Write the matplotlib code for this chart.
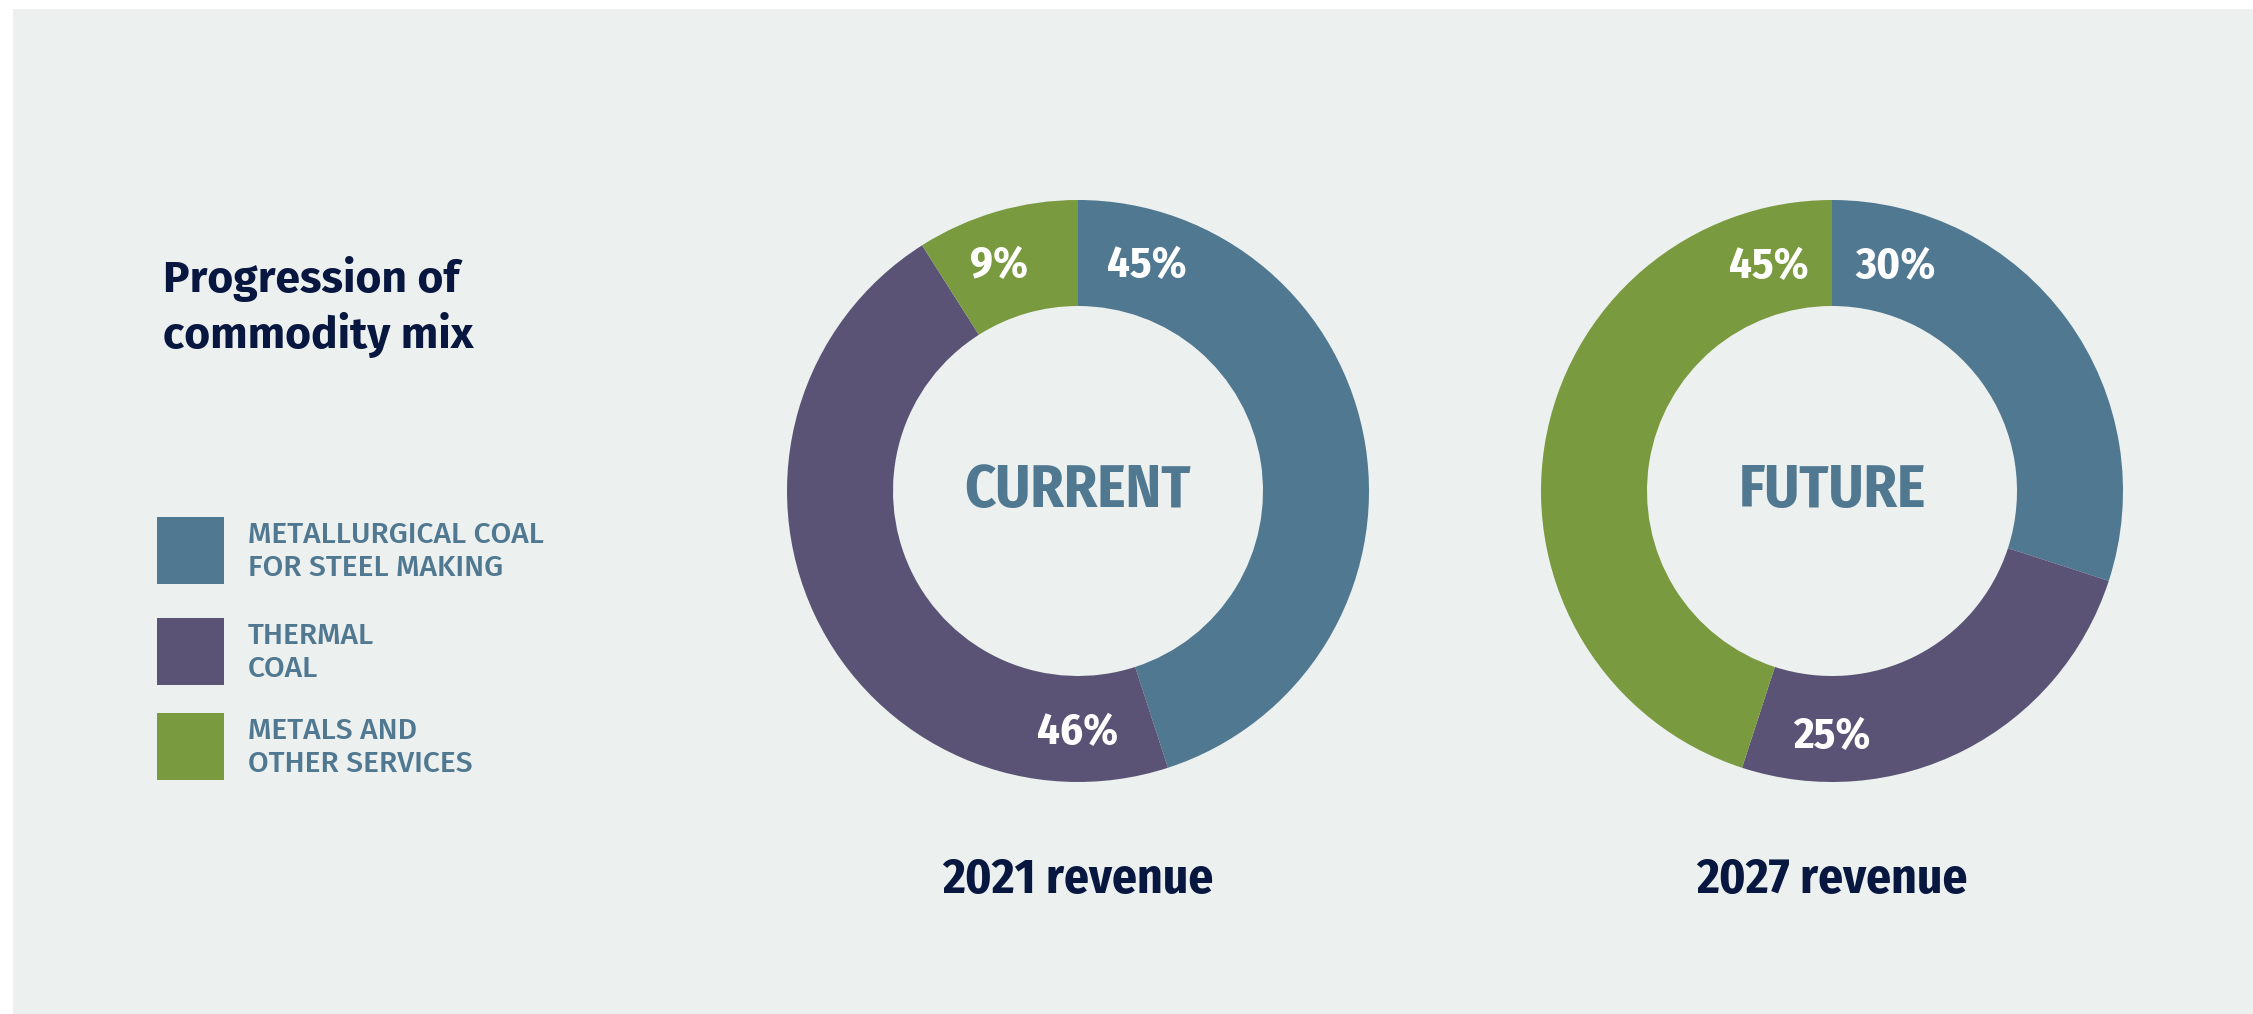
import matplotlib
matplotlib.use('Agg')
import matplotlib.pyplot as plt
import matplotlib.patches as mpatches
from matplotlib import font_manager
import numpy as np

W, H = 2253, 1014

BG     = '#ecf0ef'
BLUE   = '#507891'
PURPLE = '#5a5375'
GREEN  = '#7a9a3f'
NAVY   = '#08173f'
WHITE  = '#ffffff'

# pick a condensed face if one is around, otherwise Roboto
installed = {f.name for f in font_manager.fontManager.ttflist}
FONT = next((n for n in ['Fira Sans Condensed', 'Roboto Condensed',
                         'Liberation Sans Narrow', 'Roboto'] if n in installed),
            'DejaVu Sans')
FONT_WIDE = next((n for n in ['Fira Sans', 'Roboto'] if n in installed), FONT)

categories = ['METALLURGICAL COAL\nFOR STEEL MAKING', 'THERMAL\nCOAL',
              'METALS AND\nOTHER SERVICES']
colors = [BLUE, PURPLE, GREEN]
current = [45, 46, 9]
future = [30, 25, 45]
centre_labels = ['CURRENT', 'FUTURE']
year_labels = ['2021 revenue', '2027 revenue']
title_lines = ['Progression of', 'commodity mix']


def fx(px):
    return px / W


def fy(py):
    return 1 - py / H


fig = plt.figure(figsize=(W / 100, H / 100), dpi=100)
fig.patch.set_facecolor('white')
fig.add_artist(mpatches.Rectangle((fx(13), 0), 1 - fx(13), fy(9),
                                  transform=fig.transFigure, facecolor=BG,
                                  edgecolor='none', zorder=0))

# ---------- title ----------
for i, line in enumerate(title_lines):
    fig.text(fx(163), fy(292 + 56 * i), line, color=NAVY, fontsize=32,
             fontweight='bold', family=FONT_WIDE, va='baseline', ha='left')

# ---------- legend ----------
sq = 67
leg_top = [517, 618, 713]
for cat, col, top in zip(categories, colors, leg_top):
    fig.add_artist(mpatches.Rectangle((fx(157), fy(top + sq)), sq / W, sq / H,
                                      transform=fig.transFigure, facecolor=col,
                                      edgecolor='none'))
    lines = cat.split('\n')
    base = top + 26
    for j, line in enumerate(lines):
        fig.text(fx(248), fy(base + 33 * j), line, color=BLUE, fontsize=21.6,
                 fontweight='medium', family=FONT_WIDE, va='baseline',
                 ha='left')

# ---------- donuts ----------
R = 291
ring = (291 - 185) / 291
centres = [(1078, 491), (1832, 491)]
series = [current, future]
# where each percentage sits, as (angle deg, radius) in the ring
label_pos = [[(72.9, 0.81), (270, 0.83), (109.4, 0.82)],
             [(74.2, 0.80), (270, 0.845), (105.8, 0.80)]]

for (cx, cy), vals, ctext, ytext, lpos in zip(centres, series, centre_labels,
                                             year_labels, label_pos):
    ax = fig.add_axes([fx(cx - R), fy(cy + R), 2 * R / W, 2 * R / H])
    ax.pie(vals, colors=colors, startangle=90, counterclock=False,
           radius=1, wedgeprops=dict(width=ring, linewidth=0))
    ax.set_xlim(-1, 1)
    ax.set_ylim(-1, 1)
    ax.set_aspect('equal')
    ax.axis('off')
    for v, (ang, r) in zip(vals, lpos):
        a = np.deg2rad(ang)
        ax.text(r * np.cos(a), r * np.sin(a), f'{v}%', color=WHITE,
                fontsize=32, fontweight='bold', family=FONT,
                ha='center', va='center')
    ax.text(0, 0, ctext, color=BLUE, fontsize=43, fontweight='bold',
            family=FONT, ha='center', va='center')
    fig.text(fx(cx), fy(893), ytext, color=NAVY, fontsize=35.5,
             fontweight='bold', family=FONT, ha='center', va='baseline')

fig.savefig('out.png', dpi=100, facecolor='white')
